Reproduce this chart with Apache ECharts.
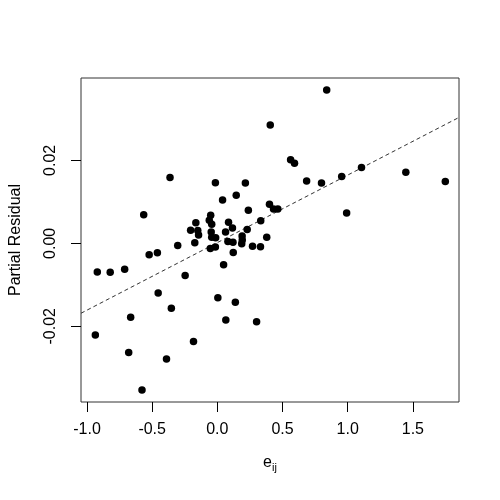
<!DOCTYPE html>
<html>
<head>
<meta charset="utf-8">
<script src="https://cdn.jsdelivr.net/npm/echarts@6/dist/echarts.min.js"></script>
<style>
  html, body { margin: 0; padding: 0; background: #fff; }
  #chart { width: 500px; height: 500px; }
</style>
</head>
<body>
<div id="chart"></div>
<script>
// e_ij values (x)
const eij = [
  0.839, 0.406, -0.363, -0.015, 0.215, 0.562, 0.592, 0.145, 0.040, 0.400,
  0.431, 0.464, 0.238, -0.565, -0.051, -0.062, 0.333, -0.165, 0.086, -0.043,
  0.116, -0.205, -0.150, -0.047, 0.063, 0.229, 0.190, -0.144, -0.043, -0.013,
  0.379, -0.173, -0.304, 0.081, 0.120, 0.191, 0.187, -0.054, -0.015, 0.270,
  0.331, 0.685, 0.799, 0.954, 1.106, 1.446, 1.749, 0.992, 0.122, 0.048,
  -0.460, -0.523, -0.711, -0.822, -0.921, -0.247, -0.454, 0.004, 0.138, -0.353,
  -0.665, 0.065, 0.301, -0.936, -0.183, -0.680, -0.390, -0.578
]
// partial residuals (y)
const partialResidual = [
  0.03696, 0.0285, 0.01585, 0.01461, 0.01452, 0.02012, 0.01932, 0.01159, 0.01046, 0.00944,
  0.00829, 0.00829, 0.00797, 0.00691, 0.00676, 0.00556, 0.00546, 0.00498, 0.00507, 0.00461,
  0.0037, 0.00314, 0.00309, 0.00273, 0.00273, 0.00333, 0.00176, 0.002, 0.00145, 0.00135,
  0.00145, 0.00012, -0.00053, 0.00043, 0.00027, 0.0008, -0.0001, -0.00126, -0.00089, -0.0007,
  -0.00082, 0.01505, 0.01457, 0.01614, 0.01831, 0.01715, 0.01488, 0.00732, -0.00222, -0.00519,
  -0.00227, -0.00275, -0.00626, -0.007, -0.00693, -0.00773, -0.01196, -0.01314, -0.01423, -0.01568,
  -0.0178, -0.01848, -0.01889, -0.02208, -0.02365, -0.02633, -0.02787, -0.03539
]
// fitted line (dashed)
const fitIntercept = 0.00017
const fitSlope = 0.01628

const xTicks = [-1.0, -0.5, 0.0, 0.5, 1.0, 1.5]
const yTicks = [-0.02, 0.00, 0.02]
const xRange = [-1.046, 1.854]
const yRange = [-0.03826, 0.03986]

const font = 'Liberation Sans, Arial, Helvetica, sans-serif'

const points = eij.map((x, i) => [x, partialResidual[i]])
const fitLine = xRange.map(x => [x, fitIntercept + fitSlope * x])

const chart = echarts.init(document.getElementById('chart'))

chart.setOption({
  animation: false,
  backgroundColor: '#fff',
  grid: {
    left: 78,
    right: 41,
    top: 78,
    bottom: 98,
    show: true,
    borderColor: '#333',
    borderWidth: 1
  },
  xAxis: {
    type: 'value',
    min: xRange[0],
    max: xRange[1],
    name: '{e|e}{s|ij}',
    nameLocation: 'middle',
    nameGap: 50,
    nameTextStyle: {
      rich: {
        e: { fontFamily: font, fontSize: 16, color: '#000' },
        s: { fontFamily: font, fontSize: 11, color: '#000', verticalAlign: 'bottom', padding: [10, 0, 0, 0] }
      }
    },
    axisLine: { show: false, onZero: false },
    axisTick: {
      show: true,
      customValues: xTicks,
      length: 10,
      lineStyle: { color: '#000' }
    },
    axisLabel: {
      customValues: xTicks,
      margin: 20,
      fontFamily: font,
      fontSize: 16,
      color: '#000',
      formatter: v => v.toFixed(1)
    },
    splitLine: { show: false }
  },
  yAxis: {
    type: 'value',
    min: yRange[0],
    max: yRange[1],
    name: 'Partial Residual',
    nameLocation: 'middle',
    nameGap: 57,
    nameTextStyle: { fontFamily: font, fontSize: 16, color: '#000' },
    axisLine: { show: false, onZero: false },
    axisTick: {
      show: true,
      customValues: yTicks,
      length: 10,
      lineStyle: { color: '#000' }
    },
    axisLabel: {
      customValues: yTicks,
      rotate: 90,
      margin: 22,
      fontFamily: font,
      fontSize: 16,
      color: '#000',
      formatter: v => v.toFixed(2)
    },
    splitLine: { show: false }
  },
  series: [
    {
      type: 'line',
      data: fitLine,
      symbol: 'none',
      silent: true,
      lineStyle: { color: '#333', width: 1, type: [4, 3] },
      z: 1
    },
    {
      type: 'scatter',
      data: points,
      symbol: 'circle',
      symbolSize: 7.5,
      itemStyle: { color: '#000', opacity: 1 },
      z: 2
    }
  ]
})
</script>
</body>
</html>
